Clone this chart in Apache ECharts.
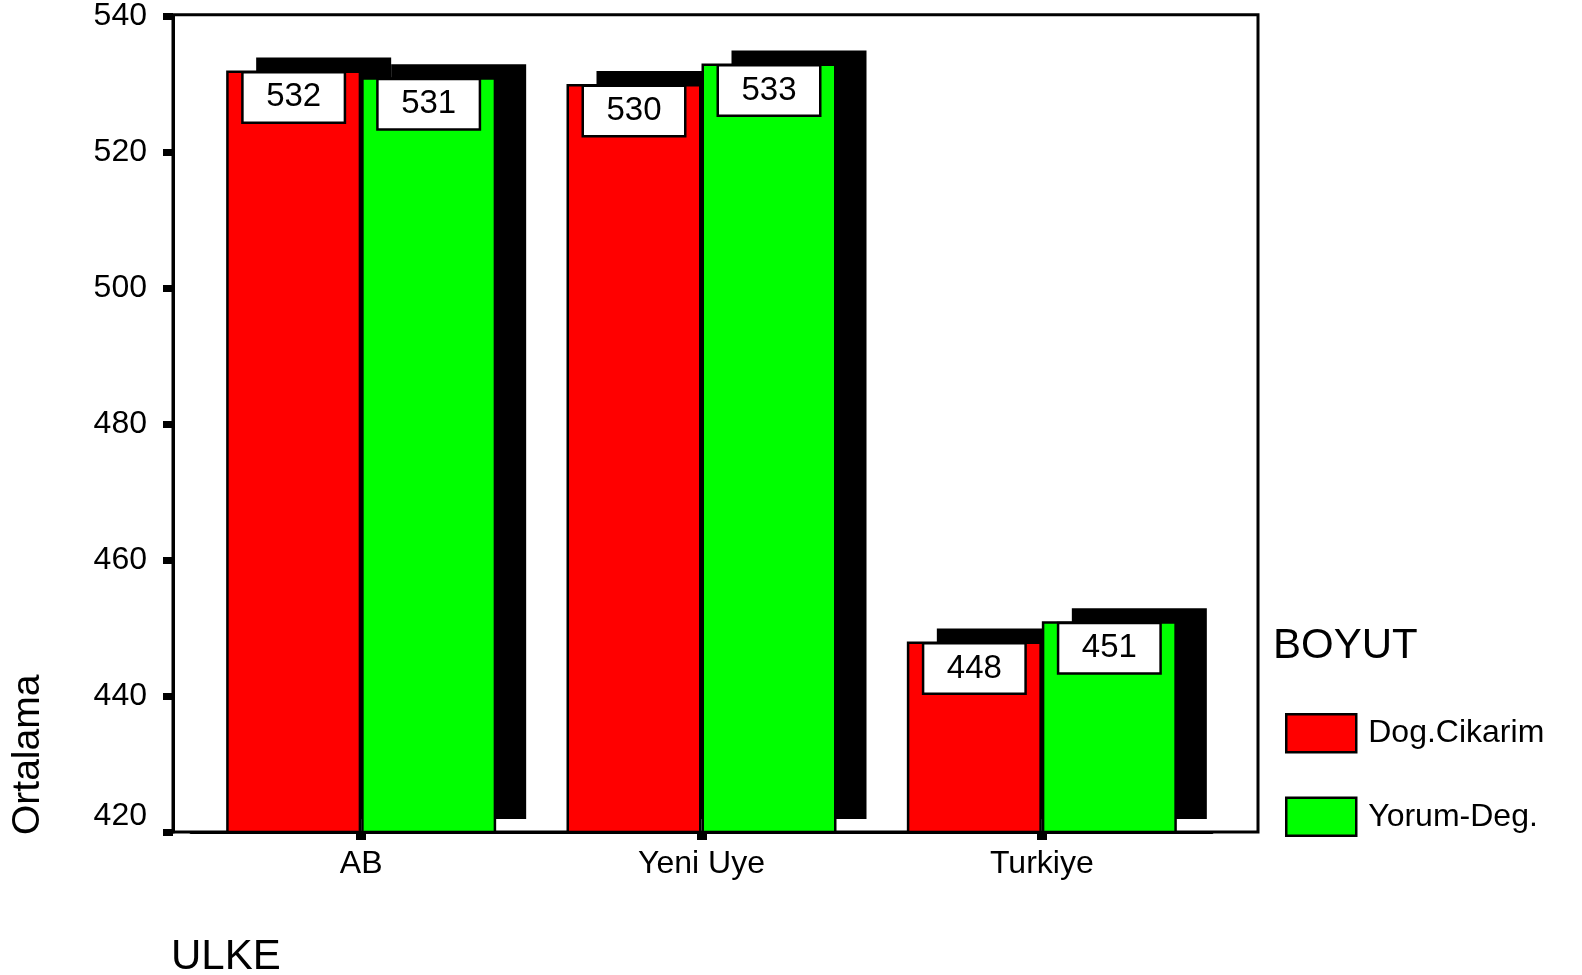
<!DOCTYPE html>
<html>
<head>
<meta charset="utf-8">
<title>ULKE / BOYUT Ortalama</title>
<script src="https://cdn.jsdelivr.net/npm/echarts@6/dist/echarts.min.js"></script>
<style>
  html, body { margin: 0; padding: 0; background: #ffffff; }
  #chart { width: 1582px; height: 975px; }
</style>
</head>
<body>
<div id="chart"></div>
<script>
// Countries on the category axis
const countries = ['AB', 'Yeni Uye', 'Turkiye'];
// Mean scores per dimension (BOYUT)
const dogCikarim = [532, 530, 448];
const yorumDeg = [531, 533, 451];
const dimensionNames = ['Dog.Cikarim', 'Yorum-Deg.'];
// Value axis range
const yMin = 420;
const yMax = 540;
const yStep = 20;

const FONT = '"Liberation Sans", Arial, Helvetica, sans-serif';

// Layout of the plotting area (pixels)
const bandLeft = 191;      // start of first category band
const bandRight = 1212;    // end of last category band
const plotTop = 14.7;
const plotBottom = 832;
const frameLeft = 173;     // left/value axis line
const frameRight = 1258;   // right border of the plot frame

// Bar geometry and the flat "depth" block drawn behind each bar
const BAR_W = 135;
const DEPTH_DX = 30;
const DEPTH_DY = 13;

const chart = echarts.init(document.getElementById('chart'), null, { renderer: 'canvas' });

// Rows for the depth blocks: [category index, value, dimension index]
const depthRows = [];
[dogCikarim, yorumDeg].forEach((vals, d) => {
  vals.forEach((v, i) => depthRows.push([i, v, d]));
});

const barStyle = (fill) => ({
  color: fill,
  borderColor: '#000000',
  borderWidth: 2.5
});

const valueLabel = {
  show: true,
  position: 'insideTop',
  distance: 3,
  color: '#000000',
  fontFamily: FONT,
  fontSize: 33,
  backgroundColor: '#ffffff',
  borderColor: '#000000',
  borderWidth: 2.5,
  width: 100,
  height: 48,
  lineHeight: 48,
  align: 'center',
  padding: 0
};

const option = {
  animation: false,
  backgroundColor: '#ffffff',
  title: {
    text: 'BOYUT',
    left: 1273,
    top: 625,
    padding: 0,
    textStyle: { fontFamily: FONT, fontSize: 42, fontWeight: 'normal', color: '#000000' }
  },
  legend: {
    data: dimensionNames,
    orient: 'vertical',
    left: 1285,
    top: 713,
    padding: 0,
    itemWidth: 70,
    itemHeight: 38,
    itemGap: 43,
    icon: 'rect',
    selectedMode: false,
    itemStyle: { borderColor: '#000000', borderWidth: 2.5 },
    textStyle: {
      fontFamily: FONT,
      fontSize: 32,
      color: '#000000',
      padding: [20, 0, 0, 7]
    }
  },
  grid: {
    left: bandLeft,
    right: 1582 - bandRight,
    top: plotTop,
    bottom: 975 - plotBottom,
    containLabel: false
  },
  xAxis: {
    type: 'category',
    data: countries,
    axisLine: { show: true, lineStyle: { color: '#000000', width: 3 } },
    axisTick: { show: true, alignWithLabel: true, length: 8, lineStyle: { color: '#000000', width: 10 } },
    axisLabel: { color: '#000000', fontFamily: FONT, fontSize: 32, margin: 16 },
    splitLine: { show: false }
  },
  yAxis: {
    type: 'value',
    min: yMin,
    max: yMax,
    interval: yStep,
    offset: bandLeft - frameLeft,
    axisLine: { show: true, lineStyle: { color: '#000000', width: 3 } },
    axisTick: { show: true, length: 10, lineStyle: { color: '#000000', width: 7 } },
    axisLabel: {
      color: '#000000',
      fontFamily: FONT,
      fontSize: 32,
      margin: 26,
      formatter: (v) => (v === yMin ? '{low|' + v + '}' : String(v)),
      rich: {
        low: { fontFamily: FONT, fontSize: 32, color: '#000000', padding: [0, 0, 32, 0] }
      }
    },
    splitLine: { show: false }
  },
  series: [
    {
      // black depth blocks, offset up and to the right of each bar
      name: 'depth',
      type: 'custom',
      silent: true,
      data: depthRows,
      encode: { x: 0, y: 1 },
      renderItem: (params, api) => {
        const cat = api.value(0);
        const val = api.value(1);
        const dim = api.value(2);
        const top = api.coord([cat, val]);
        const base = api.coord([cat, yMin]);
        const x0 = top[0] + (dim - 1) * BAR_W + DEPTH_DX;
        return {
          type: 'rect',
          shape: { x: x0, y: top[1] - DEPTH_DY, width: BAR_W, height: base[1] - top[1] },
          style: { fill: '#000000' }
        };
      }
    },
    {
      name: dimensionNames[0],
      type: 'bar',
      data: dogCikarim,
      barWidth: BAR_W,
      barGap: '0%',
      itemStyle: barStyle('#ff0000'),
      label: valueLabel,
      emphasis: { disabled: true }
    },
    {
      name: dimensionNames[1],
      type: 'bar',
      data: yorumDeg,
      barWidth: BAR_W,
      barGap: '0%',
      itemStyle: barStyle('#00ff00'),
      label: valueLabel,
      emphasis: { disabled: true }
    }
  ],
  graphic: [
    {
      // plot frame: top and right border closing the axes
      type: 'rect',
      silent: true,
      z: 1,
      shape: { x: frameLeft, y: plotTop, width: frameRight - frameLeft, height: plotBottom - plotTop },
      style: { fill: 'none', stroke: '#000000', lineWidth: 3 }
    },
    {
      type: 'text',
      silent: true,
      x: 28,
      y: 835,
      rotation: Math.PI / 2,
      style: {
        text: 'Ortalama',
        fill: '#000000',
        font: 'normal 39px ' + FONT,
        textAlign: 'left',
        textVerticalAlign: 'middle'
      }
    },
    {
      type: 'text',
      silent: true,
      x: 171,
      y: 936,
      style: {
        text: 'ULKE',
        fill: '#000000',
        font: 'normal 42px ' + FONT,
        textAlign: 'left',
        textVerticalAlign: 'top'
      }
    }
  ]
};

chart.setOption(option);
</script>
</body>
</html>
